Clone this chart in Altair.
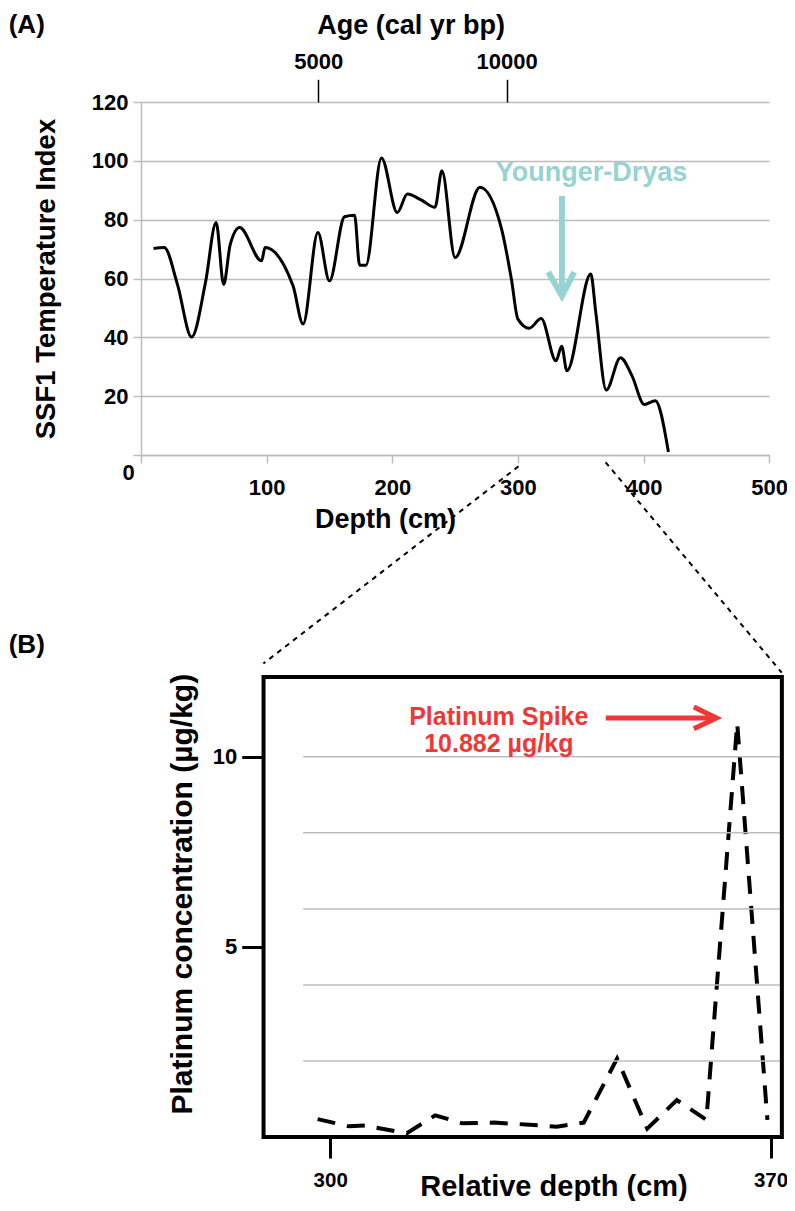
import altair as alt
import pandas as pd

# ---------------- Panel A data ----------------
DEPTH_CM = [10, 18.5, 29, 40.3, 51.3, 59.8, 65.8, 71, 78.5, 96, 98.7, 121, 129, 140.8,
            150, 162, 170, 174, 179, 191.4, 204, 212, 223, 234, 239.5, 250, 269.8, 287,
            294.8, 300, 309, 318.5, 330.3, 334.8, 339, 358, 362, 370.3, 381.6, 390.8,
            400.6, 409.3, 419.8]
SSF1_INDEX = [70.2, 70.5, 58, 40.1, 58.6, 79, 58, 71.5, 77.3, 66, 70.5, 57.5, 44.5, 75.6,
              59.2, 81, 81.5, 64.5, 64.5, 101, 82.4, 88.7, 86.7, 84.2, 96.6, 67.1, 91, 76.8,
              59.8, 46.2, 43.1, 46.4, 32, 37, 28.6, 61.5, 48.4, 22.1, 33.1, 26.9,
              17.2, 18.4, 1]
DEPTH_TICKS = [0, 100, 200, 300, 400, 500]
SSF1_TICKS = [0, 20, 40, 60, 80, 100, 120]
AGE_TICKS = [5000, 10000]
AGE_TICK_DEPTH = [141, 291]

YD_LABEL = ["Younger-Dryas"]
YD_LABEL_POS = [358.6, 95.9]
YD_ARROW_X = [335, 335, 324.2, 335, 344.8]
YD_ARROW_Y = [88.1, 54.1, 62.2, 54.1, 62.2]
YD_ARROW_PART = ["shaft", "shaft", "head", "head", "head"]

# zoom connectors (from depth 300 / 370 on panel A down to panel B frame)
CONN_X = [300.5, 97.4, 369.8, 510]
CONN_Y = [-3.85, -70.9, -2.48, -74.0]
CONN_ID = ["left", "left", "right", "right"]

# ---------------- Panel B data ----------------
PT_DEPTH = [298, 303, 305.5, 312.2, 316.7, 321, 326, 331, 336, 340.3, 345.6, 350.4,
            355.1, 359.8, 364.7, 369.5]
PT_CONC = [0.47, 0.28, 0.3, 0.1, 0.57, 0.36, 0.38, 0.33, 0.27, 0.38, 2.06, 0.22,
           0.97, 0.45, 10.88, 0.45]
PT_X_TICKS = [300, 370]
PT_Y_TICKS = [5, 10]
PT_GRID = [2, 4, 6, 8, 10]
PT_GRID_START = 295.7
BOX_X = [289.4, 371.8]
BOX_Y = [0, 12.1]

SPIKE_TEXT = ["Platinum Spike", "10.882 µg/kg"]
SPIKE_TEXT_X = [326.8, 326.8]
SPIKE_TEXT_Y = [11.05, 10.35]
SPIKE_ARROW_X = [343.8, 361.4, 357.8, 361.4, 357.8]
SPIKE_ARROW_Y = [11.02, 11.02, 11.31, 11.02, 10.74]
SPIKE_ARROW_PART = ["shaft", "shaft", "head", "head", "head"]

FONT = "Liberation Sans"
GRID_GRAY = "#bdbdbd"
TEAL = "#97d3d1"
RED = "#ee3838"

# ================= Panel A =================
WA, HA = 628.2, 353
xA = alt.Scale(domain=[0, 500], nice=False, zero=False)
yA = alt.Scale(domain=[0, 120], nice=False, zero=False)

dfA = pd.DataFrame({"depth": DEPTH_CM, "ssf1": SSF1_INDEX})
lineA = alt.Chart(dfA).mark_line(color="black", strokeWidth=3, interpolate="monotone").encode(
    x=alt.X("depth:Q", scale=xA, axis=alt.Axis(
        values=DEPTH_TICKS, labelExpr="datum.value == 0 ? '' : datum.label",
        grid=False, domainColor=GRID_GRAY, domainWidth=1.5, tickColor=GRID_GRAY,
        tickWidth=1.5, tickSize=8, labelFontSize=22, labelFontWeight="bold",
        labelColor="black", labelBaseline="middle", labelPadding=24.7,
        labelFlush=False, labelOverlap=False,
        title="Depth (cm)", titleFontSize=27, titleFontWeight="bold", titleColor="black",
        titleX=244.1, titleY=64, titleBaseline="middle")),
    y=alt.Y("ssf1:Q", scale=yA, axis=alt.Axis(
        values=SSF1_TICKS, labelExpr="datum.value == 0 ? '' : datum.label",
        grid=True, gridColor=GRID_GRAY, gridWidth=1.5, domainColor=GRID_GRAY,
        domainWidth=1.5, tickColor=GRID_GRAY, tickWidth=1.5, tickSize=8,
        labelFontSize=22, labelFontWeight="bold", labelColor="black", labelPadding=5,
        labelOverlap=False, labelFlush=False,
        title="SSF1 Temperature Index", titleFontSize=27.5, titleFontWeight="bold",
        titleColor="black", titleX=-94.3, titleY=176.5, titleBaseline="middle")),
)

zero_lbl = alt.Chart(pd.DataFrame({"depth": [0], "ssf1": [0], "t": ["0"]})).mark_text(
    align="right", baseline="middle", dx=-6.2, dy=18, fontSize=22, fontWeight="bold",
    color="black", font=FONT).encode(
    x=alt.X("depth:Q", scale=xA), y=alt.Y("ssf1:Q", scale=yA), text="t:N")

yd_text = alt.Chart(pd.DataFrame({"depth": [YD_LABEL_POS[0]], "ssf1": [YD_LABEL_POS[1]],
                                  "t": YD_LABEL})).mark_text(
    align="center", baseline="middle", fontSize=27, fontWeight="bold", color=TEAL,
    font=FONT).encode(
    x=alt.X("depth:Q", scale=xA), y=alt.Y("ssf1:Q", scale=yA), text="t:N")

yd_arrow = alt.Chart(pd.DataFrame({"depth": YD_ARROW_X, "ssf1": YD_ARROW_Y, "part": YD_ARROW_PART,
                                   "o": list(range(len(YD_ARROW_X)))})).mark_line(
    color=TEAL, strokeWidth=6, strokeJoin="miter", strokeCap="butt").encode(
    x=alt.X("depth:Q", scale=xA), y=alt.Y("ssf1:Q", scale=yA),
    detail="part:N", order="o:Q")

connectors = alt.Chart(pd.DataFrame({"depth": CONN_X, "ssf1": CONN_Y, "id": CONN_ID,
                                     "o": [0, 1, 0, 1]})).mark_line(
    color="black", strokeWidth=2, strokeDash=[5, 5]).encode(
    x=alt.X("depth:Q", scale=xA), y=alt.Y("ssf1:Q", scale=yA),
    detail="id:N", order="o:Q")

label_a = alt.Chart(pd.DataFrame({"t": ["(A)"]})).mark_text(
    align="left", baseline="middle", fontSize=26, fontWeight="bold", color="black",
    font=FONT).encode(x=alt.value(-132.3), y=alt.value(-77.2), text="t:N")

slope = (AGE_TICKS[1] - AGE_TICKS[0]) / (AGE_TICK_DEPTH[1] - AGE_TICK_DEPTH[0])
age_lo = AGE_TICKS[0] - AGE_TICK_DEPTH[0] * slope
age_hi = AGE_TICKS[0] + (500 - AGE_TICK_DEPTH[0]) * slope
age_layer = alt.Chart(pd.DataFrame({"age": AGE_TICKS, "ssf1": [120, 120]})).mark_point(
    opacity=0, size=1).encode(
    x=alt.X("age:Q", scale=alt.Scale(domain=[age_lo, age_hi], nice=False, zero=False),
            axis=alt.Axis(orient="top", values=AGE_TICKS, format="d", domain=False, grid=False,
                          tickColor="black", tickWidth=1.5, tickSize=22.7,
                          labelFontSize=22, labelFontWeight="bold", labelColor="black",
                          labelBaseline="middle", labelPadding=18.3, labelFlush=False,
                          labelOverlap=False,
                          title="Age (cal yr bp)", titleFontSize=27, titleFontWeight="bold",
                          titleColor="black", titleX=269.6, titleY=-76.5,
                          titleBaseline="middle")),
    y=alt.Y("ssf1:Q", scale=yA))

inner_a = alt.layer(lineA, zero_lbl, yd_text, yd_arrow, connectors, label_a)
panel_a = alt.layer(inner_a, age_layer).resolve_scale(x="independent").properties(
    width=WA, height=HA)

# ================= Panel B =================
# plot area shares the left origin with panel A; the framed box starts further right
WB, HB = 641.0, 460
xB = alt.Scale(domain=[269.92, 371.82], nice=False, zero=False)
yB = alt.Scale(domain=[0, 12.1], nice=False, zero=False)

dfB = pd.DataFrame({"depth": PT_DEPTH, "pt": PT_CONC})
line_b = alt.Chart(dfB).mark_line(color="black", strokeWidth=4, strokeDash=[18, 12]).encode(
    x=alt.X("depth:Q", scale=xB, axis=alt.Axis(
        values=PT_X_TICKS, domain=False, grid=False, tickColor="black", tickWidth=3,
        tickSize=21, labelFontSize=20.5, labelFontWeight="bold", labelColor="black",
        labelBaseline="middle", labelPadding=22, labelFlush=False, labelOverlap=False,
        title="Relative depth (cm)", titleFontSize=29, titleFontWeight="bold",
        titleColor="black", titleX=412.5, titleY=49, titleBaseline="middle")),
    y=alt.Y("pt:Q", scale=yB, axis=alt.Axis(
        values=PT_Y_TICKS, domain=False, grid=False, tickColor="black", tickWidth=3,
        tickSize=21.7, labelFontSize=22, labelFontWeight="bold", labelColor="black",
        labelPadding=5, labelFlush=False, labelOverlap=False, offset=-122.45,
        title="Platinum concentration (µg/kg)", titleFontSize=30, titleFontWeight="bold",
        titleColor="black", titleX=-80.9, titleY=216.7, titleBaseline="middle")),
)

grid_b = alt.Chart(pd.DataFrame({"depth": [PT_GRID_START] * len(PT_GRID),
                                 "depth2": [BOX_X[1]] * len(PT_GRID),
                                 "pt": PT_GRID})).mark_rule(
    color=GRID_GRAY, strokeWidth=1.5).encode(
    x=alt.X("depth:Q", scale=xB), x2="depth2:Q", y=alt.Y("pt:Q", scale=yB))

box_b = alt.Chart(pd.DataFrame({"depth": [BOX_X[0]], "depth2": [BOX_X[1]],
                                "pt": [BOX_Y[0]], "pt2": [BOX_Y[1]]})).mark_rect(
    fillOpacity=0, stroke="black", strokeWidth=4).encode(
    x=alt.X("depth:Q", scale=xB), x2="depth2:Q",
    y=alt.Y("pt:Q", scale=yB), y2="pt2:Q")

spike_text = alt.Chart(pd.DataFrame({"depth": SPIKE_TEXT_X, "pt": SPIKE_TEXT_Y,
                                     "t": SPIKE_TEXT})).mark_text(
    align="center", baseline="middle", fontSize=25, fontWeight="bold", color=RED,
    font=FONT).encode(
    x=alt.X("depth:Q", scale=xB), y=alt.Y("pt:Q", scale=yB), text="t:N")

spike_arrow = alt.Chart(pd.DataFrame({"depth": SPIKE_ARROW_X, "pt": SPIKE_ARROW_Y,
                                      "part": SPIKE_ARROW_PART,
                                      "o": list(range(len(SPIKE_ARROW_X)))})).mark_line(
    color=RED, strokeWidth=5, strokeJoin="miter", strokeCap="butt").encode(
    x=alt.X("depth:Q", scale=xB), y=alt.Y("pt:Q", scale=yB),
    detail="part:N", order="o:Q")

label_b = alt.Chart(pd.DataFrame({"t": ["(B)"]})).mark_text(
    align="left", baseline="middle", fontSize=26, fontWeight="bold", color="black",
    font=FONT).encode(x=alt.value(-132.3), y=alt.value(-32.3), text="t:N")

panel_b = alt.layer(line_b, grid_b, box_b, spike_text, spike_arrow, label_b).properties(
    width=WB, height=HB)

chart = alt.vconcat(panel_a, panel_b, spacing=-57).properties(
    padding={"left": 0, "top": 3, "right": -1, "bottom": 0}
).configure(font=FONT).configure_view(strokeWidth=0)

chart.save("out.html", embed_options={"renderer": "svg", "actions": False})
